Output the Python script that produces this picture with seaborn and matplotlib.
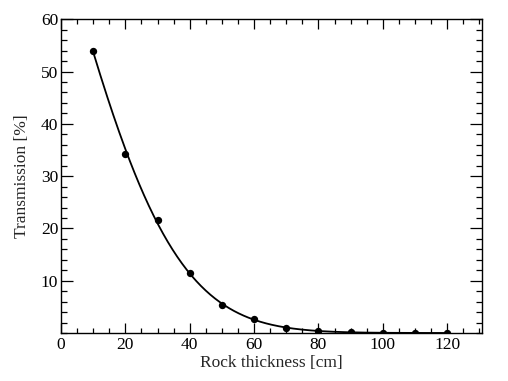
import numpy as np
import pandas as pd
import matplotlib
matplotlib.use("Agg")
import matplotlib.pyplot as plt
import seaborn as sns
from matplotlib.ticker import MultipleLocator, FixedLocator

# Data
thickness = [10, 20, 30, 40, 50, 60, 70, 80, 90, 100, 110, 120]
transmission = [53.9, 34.2, 21.6, 11.5, 5.4, 2.7, 1.05, 0.35, 0.14, 0.07, 0.05, 0.04]
errors = [0.6, 0.35, 0.3, 0.25, 0.2, 0.15, 0.1, 0.08, 0.05, 0.04, 0.03, 0.03]
xticks = [0, 20, 40, 60, 80, 100, 120]
yticks = [10, 20, 30, 40, 50, 60]

sns.set_theme(style="ticks")
plt.rcParams["font.family"] = ["Liberation Serif", "DejaVu Serif"]
plt.rcParams["mathtext.fontset"] = "stix"

df = pd.DataFrame({"x": thickness, "y": transmission, "e": errors})

# Fit curve (log-quadratic fit to the data)
xs = np.array(thickness[:9], dtype=float)
ys = np.log(np.array(transmission[:9]))
coef = np.polyfit(xs, ys, 2)
xf = np.linspace(thickness[0], thickness[-1], 300)
fit = pd.DataFrame({"x": xf, "y": np.exp(np.polyval(coef, xf))})

fig = plt.figure(figsize=(5.08, 3.81), dpi=100)
ax = fig.add_axes([61/508, 1-333/381, (482-61)/508, (333-19.3)/381])

sns.lineplot(data=fit, x="x", y="y", ax=ax, color="black", linewidth=1.3)
ax.errorbar(df["x"], df["y"], yerr=df["e"], fmt="none", ecolor="black", elinewidth=1.0, capsize=0)
sns.scatterplot(data=df, x="x", y="y", ax=ax, color="black", s=28, edgecolor="black", linewidth=0, zorder=5)

ax.set_xlim(0, 130.8)
ax.set_ylim(0, 60)
ax.xaxis.set_major_locator(FixedLocator(xticks))
ax.xaxis.set_minor_locator(MultipleLocator(5))
ax.yaxis.set_major_locator(FixedLocator(yticks))
ax.yaxis.set_minor_locator(MultipleLocator(2))
ax.tick_params(axis="both", which="both", direction="in", top=True, right=True,
               labelsize=12.5, colors="black", width=0.9)
ax.tick_params(axis="x", which="major", length=7, pad=3)
ax.tick_params(axis="x", which="minor", length=3.5)
ax.tick_params(axis="y", which="major", length=8.5, pad=2)
ax.tick_params(axis="y", which="minor", length=4.5)
for s in ax.spines.values():
    s.set_linewidth(1.0)
    s.set_color("black")

ax.set_xlabel("Rock thickness [cm]", fontsize=12.5, labelpad=1)
ax.set_ylabel("Transmission [%]", fontsize=12.5, labelpad=8)

fig.savefig("out.png", dpi=100)
